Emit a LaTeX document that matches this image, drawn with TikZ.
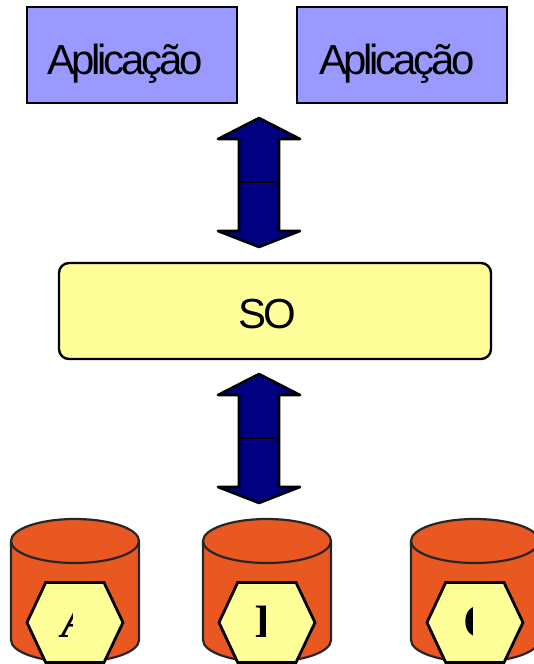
\documentclass[tikz,border=0pt]{standalone}
\usepackage{fontspec}
\setmainfont{Liberation Sans}
\newfontfamily\letterfont{Liberation Serif}
\definecolor{appblue}{HTML}{9999FF}
\definecolor{soyellow}{HTML}{FFFF99}
\definecolor{arrownavy}{HTML}{000080}
\definecolor{diskorange}{HTML}{E95820}
\tikzset{
  appbox/.style={draw=black,fill=appblue,line width=2.4pt,minimum width=210pt,minimum height=96pt,inner sep=0pt},
  sobox/.style={draw=black,fill=soyellow,line width=2.4pt,rounded corners=10pt,minimum width=432pt,minimum height=96pt,inner sep=0pt},
  bigtext/.style={inner sep=0pt,anchor=base west,font=\fontsize{42}{42}\selectfont\addfontfeature{LetterSpace=-8}},
  blockarrow/.style={draw=black,fill=arrownavy,line width=2.6pt,line join=round},
  diskbody/.style={draw=black!85!white,fill=diskorange,line width=2.2pt},
  hexcap/.style={draw=black,fill=soyellow,line width=2.8pt,line join=miter},
  disklabel/.style={anchor=base west,inner sep=0pt,font=\letterfont\fontsize{48}{48}\selectfont\bfseries}
}
\newcommand{\dualarrow}[1]{%
  \begin{scope}[yshift=-#1pt]
    \draw[blockarrow] (259,118) -- (300,139) -- (279,139) -- (279,231) -- (300,231) -- (259,247) -- (218,231) -- (239,231) -- (239,139) -- (218,139) -- cycle;
    \draw[line width=2.6pt] (239,182) -- (279,182);
  \end{scope}}
\newcommand{\disk}[1]{%
  \begin{scope}[xshift=#1pt]
    \draw[diskbody] (0,541) -- (0,640) arc[start angle=180,end angle=0,x radius=64,y radius=22] -- (128,541) arc[start angle=0,end angle=-180,x radius=64,y radius=22] -- cycle;
    \draw[diskbody] (0,541) arc[start angle=180,end angle=0,x radius=64,y radius=22];
    \draw[hexcap] (16,622.5) -- (34.7,582.5) -- (93,582.5) -- (112,622.5) -- (93,662.5) -- (34.7,662.5) -- cycle;
  \end{scope}}
\begin{document}
\begin{tikzpicture}[x=1pt,y=-1pt]
  \useasboundingbox (0,0) rectangle (534,664);
  \clip (0,0) rectangle (534,664);
  \node[appbox] (app1) at (132,55) {};
  \node[appbox] (app2) at (402,55) {};
  \node[sobox] (so) at (275,311) {};
  \node[bigtext] (t1) at (47,74) {Aplicação};
  \node[bigtext] (t2) at (319,74) {Aplicação};
  \node[bigtext] (t3) at (238.5,328) {SO};
  \dualarrow{0}
  \dualarrow{256}
  \disk{11}
  \disk{203}
  \disk{411}
  \begin{scope}
    \clip (50,600) rectangle (72.7,645);
    \node[disklabel] (la) at (61,637) {\itshape A};
  \end{scope}
  \begin{scope}
    \clip (250,600) rectangle (265.3,645);
    \node[disklabel] (lb) at (255.5,637) {B};
  \end{scope}
  \begin{scope}
    \clip (455,600) rectangle (472.7,645);
    \node[disklabel] (lc) at (463,637) {C};
  \end{scope}
\end{tikzpicture}
\end{document}
